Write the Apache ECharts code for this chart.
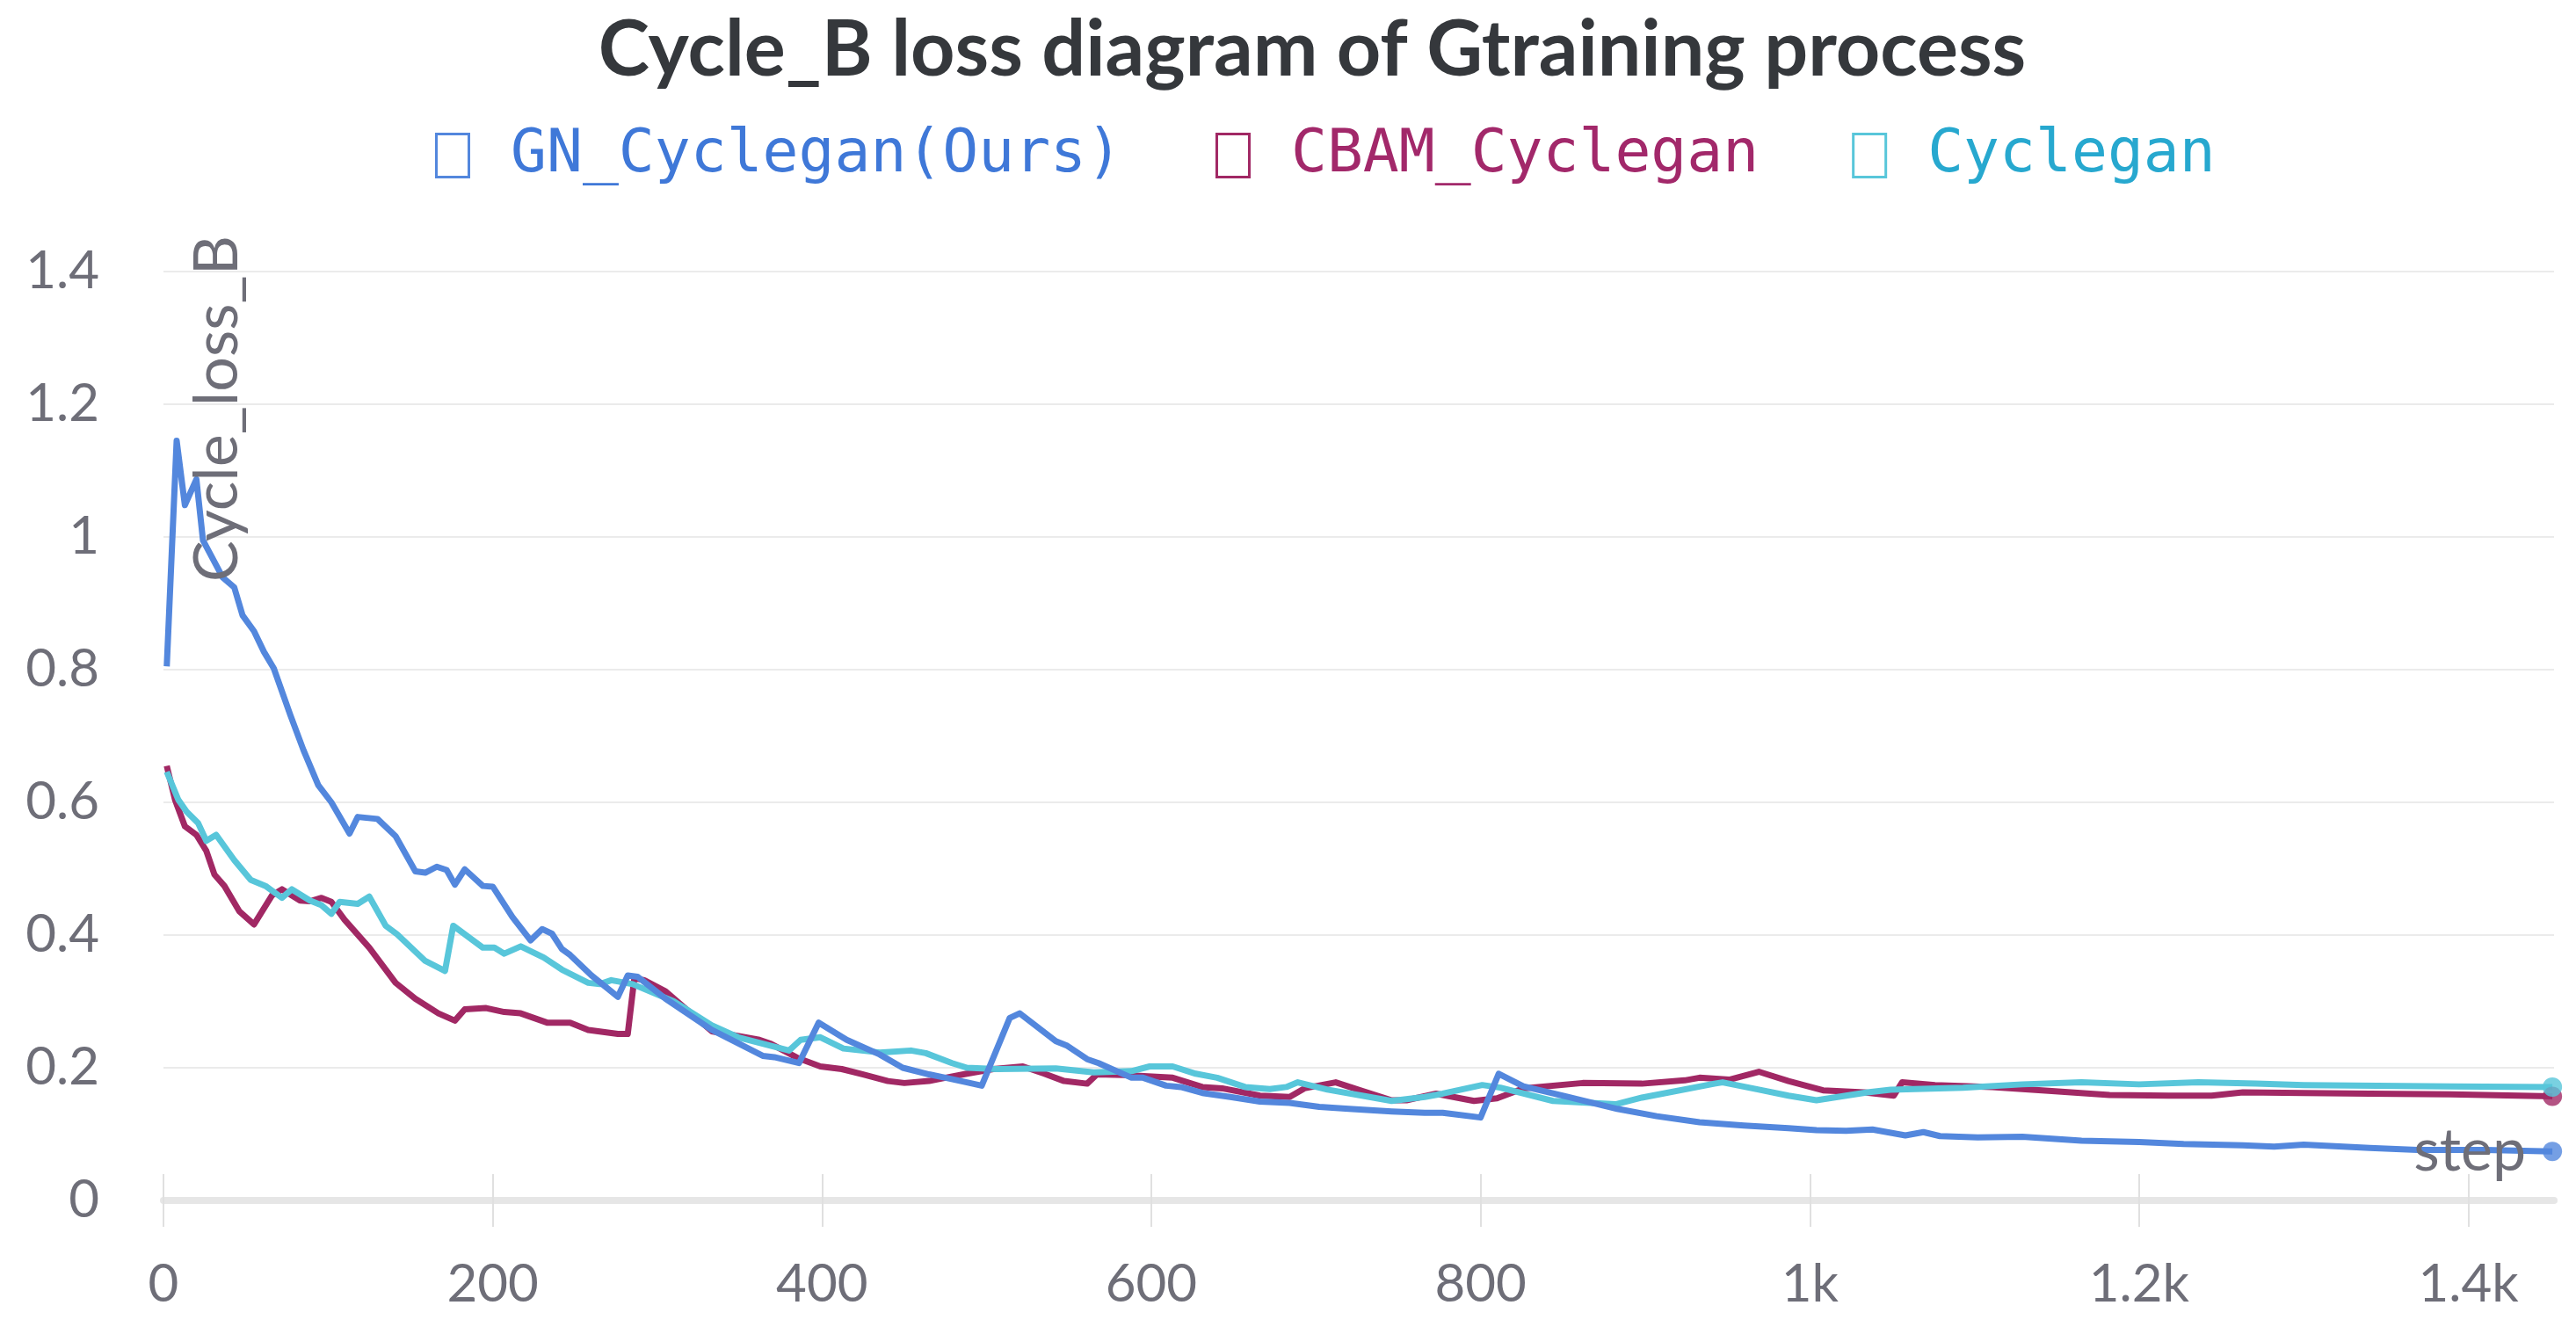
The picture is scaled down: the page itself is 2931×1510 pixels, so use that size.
<!DOCTYPE html>
<html>
<head>
<meta charset="utf-8">
<script src="https://cdn.jsdelivr.net/npm/echarts@6/dist/echarts.min.js"></script>
<style>html,body{margin:0;padding:0;background:#fff}#c{width:2931px;height:1510px}</style>
</head>
<body>
<div id="c"></div>
<script>
const chartTitle = 'Cycle_B loss diagram of Gtraining process';
const seriesNames = ['GN_Cyclegan(Ours)', 'CBAM_Cyclegan', 'Cyclegan'];
const yAxisTitle = 'Cycle_loss_B';
const xAxisTitle = 'step';

const gnSteps = [2,8,13,20,24,36,43,48,55,61,67,77,85,94,102,113,118,130,141,153,159,166,172,177,183,194,200,212,223,230,236,242,247,260,276,282,288,305,333,364,371,386,398,415,435,449,465,475,488,497,514,520,542,549,561,568,588,595,609,618,631,648,666,684,702,720,746,766,777,800,811,826,853,883,907,933,960,987,1004,1022,1038,1058,1069,1079,1102,1129,1165,1200,1227,1263,1282,1300,1340,1369,1410,1451];
const gnLoss = [0.805,1.145,1.048,1.087,0.995,0.939,0.924,0.882,0.858,0.827,0.802,0.732,0.679,0.626,0.600,0.553,0.578,0.575,0.549,0.496,0.494,0.503,0.498,0.476,0.499,0.474,0.473,0.427,0.392,0.409,0.402,0.379,0.370,0.339,0.307,0.339,0.337,0.304,0.257,0.218,0.216,0.207,0.268,0.242,0.220,0.200,0.190,0.185,0.178,0.173,0.275,0.282,0.240,0.233,0.213,0.207,0.185,0.185,0.173,0.171,0.162,0.156,0.149,0.147,0.141,0.138,0.134,0.132,0.132,0.125,0.191,0.172,0.156,0.138,0.127,0.118,0.113,0.109,0.106,0.105,0.107,0.098,0.103,0.097,0.095,0.096,0.090,0.088,0.085,0.083,0.081,0.084,0.079,0.076,0.076,0.074];

const cbamSteps = [2,7,13,20,26,31,37,46,55,66,72,83,89,96,102,110,125,141,153,167,177,183,196,207,217,233,247,258,276,282,286,292,305,333,362,369,385,399,412,425,440,450,465,475,488,504,522,535,547,561,567,583,613,631,643,666,684,693,712,728,746,755,773,796,810,826,862,898,924,933,951,969,987,1008,1033,1051,1056,1076,1111,1147,1182,1218,1244,1263,1300,1340,1389,1451];
const cbamLoss = [0.655,0.604,0.564,0.551,0.527,0.491,0.474,0.436,0.416,0.460,0.469,0.452,0.451,0.456,0.450,0.423,0.381,0.328,0.304,0.282,0.271,0.288,0.290,0.284,0.282,0.268,0.268,0.257,0.251,0.251,0.335,0.332,0.315,0.255,0.242,0.236,0.215,0.202,0.198,0.190,0.180,0.177,0.180,0.185,0.191,0.198,0.202,0.191,0.180,0.176,0.190,0.189,0.185,0.171,0.169,0.158,0.156,0.169,0.178,0.165,0.151,0.151,0.161,0.150,0.154,0.169,0.177,0.176,0.181,0.185,0.182,0.194,0.180,0.166,0.163,0.158,0.178,0.174,0.171,0.165,0.159,0.158,0.158,0.163,0.162,0.161,0.160,0.157];

const cgSteps = [2,9,14,21,26,32,43,53,62,72,78,89,96,102,107,118,125,135,142,159,171,176,194,201,207,217,231,242,258,265,272,285,310,333,349,380,387,399,413,435,454,463,479,488,506,542,565,588,599,613,627,640,657,672,682,689,707,728,746,766,777,801,812,844,882,898,942,947,969,987,1004,1022,1035,1049,1093,1129,1165,1200,1236,1271,1300,1389,1451];
const cgLoss = [0.646,0.604,0.586,0.569,0.542,0.551,0.513,0.483,0.474,0.456,0.469,0.452,0.445,0.432,0.450,0.447,0.458,0.414,0.401,0.361,0.346,0.414,0.381,0.381,0.372,0.383,0.366,0.348,0.328,0.326,0.332,0.326,0.300,0.264,0.246,0.226,0.242,0.246,0.229,0.223,0.226,0.222,0.207,0.200,0.198,0.199,0.193,0.195,0.202,0.202,0.191,0.185,0.171,0.168,0.171,0.178,0.167,0.158,0.150,0.156,0.161,0.174,0.170,0.150,0.145,0.155,0.176,0.178,0.167,0.158,0.151,0.158,0.163,0.167,0.170,0.175,0.178,0.175,0.178,0.176,0.174,0.172,0.171];

const xTickValues = [0, 200, 400, 600, 800, 1000, 1200, 1400];
const xTickLabels = ['0', '200', '400', '600', '800', '1k', '1.2k', '1.4k'];
const yTickLabels = ['0', '0.2', '0.4', '0.6', '0.8', '1', '1.2', '1.4'];

const lineColors = ['#5387dd', '#a12864', '#58c6da'];
const legendTextColors = ['#3f78d8', '#a2286a', '#27a8cf'];

function zip(xs, ys) { return xs.map((x, i) => [x, ys[i]]); }
const gnData = zip(gnSteps, gnLoss);
const cbamData = zip(cbamSteps, cbamLoss);
const cgData = zip(cgSteps, cgLoss);

const chart = echarts.init(document.getElementById('c'));
const axisGrey = '#6e6e78';
const boxIcon = 'path://M0,0L40,0L40,52L0,52Z M3,3L3,49L37,49L37,3Z';

function lineSeries(name, data, color, z) {
  return {
    name: name, type: 'line', data: data, showSymbol: false, symbol: 'none',
    lineStyle: { color: color, width: 7, join: 'round' }, itemStyle: { color: color },
    z: z, animation: false
  };
}
function endDot(name, data, color) {
  return {
    name: name, type: 'scatter', data: [data[data.length - 1]], symbol: 'circle', symbolSize: 22,
    itemStyle: { color: color }, z: 10, silent: true, animation: false
  };
}

chart.setOption({
  backgroundColor: '#ffffff',
  animation: false,
  graphic: [
    { type: 'text', x: 1493, y: 58, z: 100,
      style: { text: chartTitle, fontFamily: 'Lato', fontWeight: 'bold', fontSize: 88, fill: '#35383c', align: 'center', verticalAlign: 'middle' } },
    { type: 'text', x: 247, y: 268, rotation: Math.PI / 2, z: 100,
      style: { text: yAxisTitle, fontFamily: 'Lato', fontSize: 70, fill: axisGrey, align: 'right', verticalAlign: 'middle' } },
    { type: 'text', x: 2874, y: 1310, z: 100,
      style: { text: xAxisTitle, fontFamily: 'Lato', fontSize: 68, fill: axisGrey, align: 'right', verticalAlign: 'middle' } }
  ],
  legend: {
    left: 490, top: 138, orient: 'horizontal',
    itemWidth: 40, itemHeight: 52, itemGap: 106, icon: boxIcon,
    selectedMode: false,
    data: seriesNames.map((n, i) => ({
      name: n,
      itemStyle: { color: lineColors[i] },
      textStyle: { color: legendTextColors[i], fontFamily: 'DejaVu Sans Mono', fontSize: 68, padding: [0, 0, 0, 41] }
    }))
  },
  grid: { left: 186, right: 25, top: 309, bottom: 144, containLabel: false, outerBoundsMode: 'none' },
  xAxis: [
    {
      type: 'value', min: 0, max: 1452, position: 'bottom',
      axisLine: { show: true, onZero: false, lineStyle: { color: '#e6e6e6', width: 8 } },
      axisTick: { show: true, customValues: xTickValues, length: 30, inside: false, lineStyle: { color: '#e0e0e0', width: 2 } },
      axisLabel: {
        customValues: xTickValues, margin: 66, fontFamily: 'Lato', fontSize: 60, color: axisGrey,
        formatter: v => xTickLabels[xTickValues.indexOf(v)]
      },
      splitLine: { show: false }
    },
    {
      type: 'value', min: 0, max: 1452, position: 'bottom',
      axisLine: { show: false },
      axisTick: { show: true, customValues: xTickValues, length: 30, inside: true, lineStyle: { color: '#e0e0e0', width: 2 } },
      axisLabel: { show: false },
      splitLine: { show: false }
    }
  ],
  yAxis: {
    type: 'value', min: 0, max: 1.4, interval: 0.2,
    axisLine: { show: false }, axisTick: { show: false },
    axisLabel: { margin: 73, fontFamily: 'Lato', fontSize: 60, color: axisGrey,
      formatter: v => yTickLabels[Math.round(v / 0.2)] },
    splitLine: { show: true, lineStyle: { color: '#ebebeb', width: 2 } }
  },
  series: [
    lineSeries(seriesNames[1], cbamData, lineColors[1], 2),
    lineSeries(seriesNames[2], cgData, lineColors[2], 3),
    lineSeries(seriesNames[0], gnData, lineColors[0], 4),
    endDot('end_cbam', cbamData, lineColors[1]),
    endDot('end_cg', cgData, lineColors[2]),
    endDot('end_gn', gnData, lineColors[0])
  ]
});
</script>
</body>
</html>
